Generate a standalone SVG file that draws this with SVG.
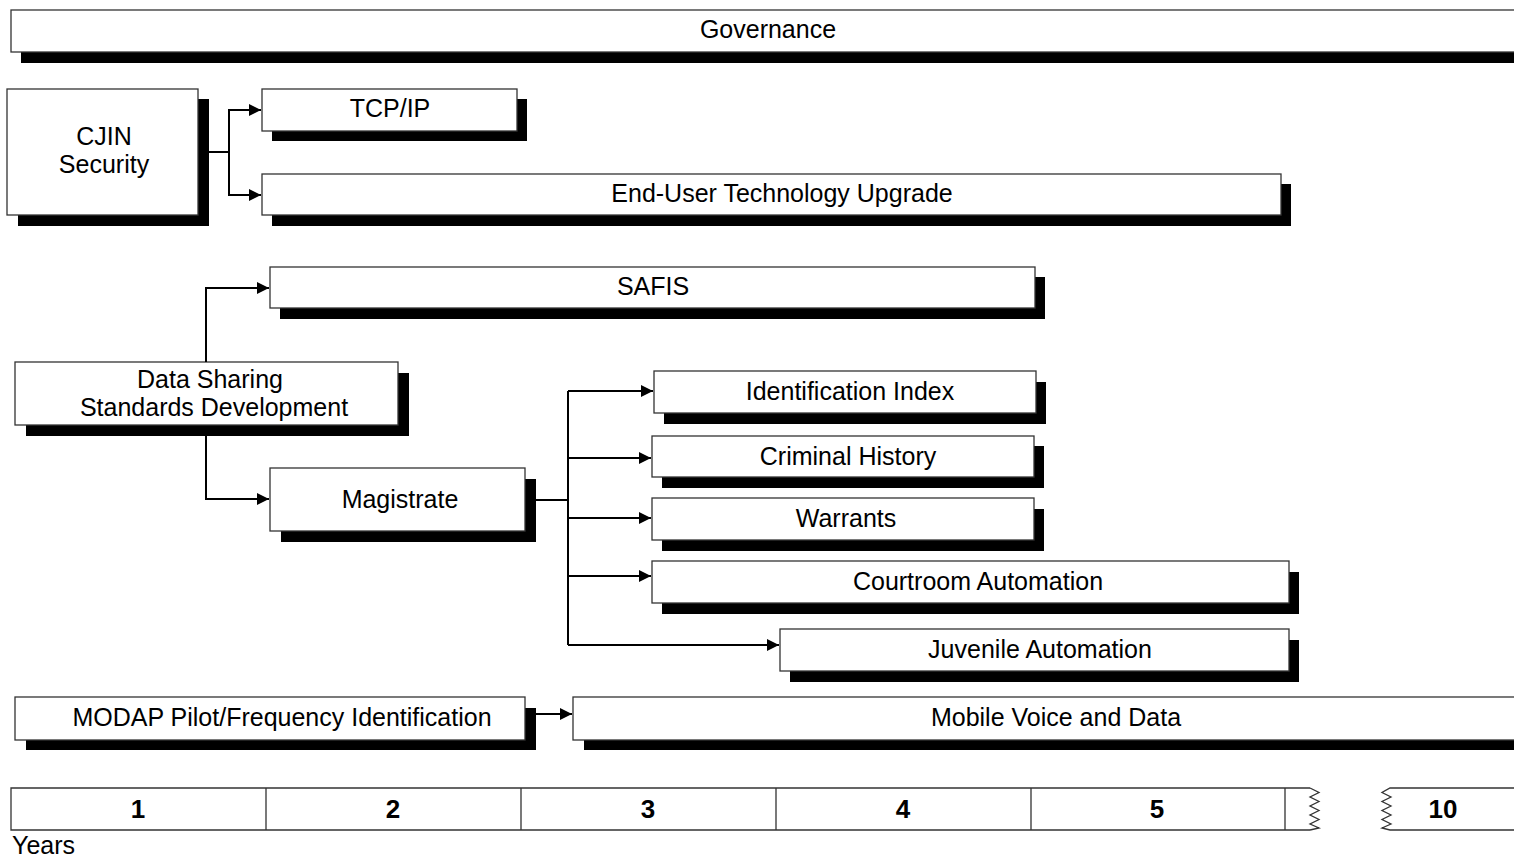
<svg xmlns="http://www.w3.org/2000/svg" width="1514" height="857" viewBox="0 0 1514 857">
<style>
.box{fill:#fff;stroke:#333;stroke-width:1.3}
.sh{fill:#000}
.t{font-family:"Liberation Sans",Arial,sans-serif;font-size:25px;fill:#000;text-anchor:middle}
.n{font-family:"Liberation Sans",Arial,sans-serif;font-size:26px;font-weight:bold;fill:#000;text-anchor:middle}
.c{fill:none;stroke:#000;stroke-width:2}
.tl{fill:none;stroke:#333;stroke-width:1.3}
</style>
<defs>
<marker id="ah" viewBox="0 0 10 10" refX="10" refY="5" markerWidth="12" markerHeight="12" markerUnits="userSpaceOnUse" orient="auto">
<path d="M0,0 L10,5 L0,10 z" fill="#000"/>
</marker>
</defs>
<rect width="1514" height="857" fill="#fff"/>

<g id="governance">
<rect class="sh" x="21" y="20" width="1500" height="43"/>
<rect class="box" x="11" y="10" width="1510" height="42"/>
<text class="t" x="768" y="38">Governance</text>
</g>

<g id="cjin">
<rect class="sh" x="18" y="99" width="191" height="127"/>
<rect class="box" x="7" y="89" width="191" height="126"/>
<text class="t" x="104" y="145">CJIN</text>
<text class="t" x="104" y="173">Security</text>
</g>

<g id="tcpip">
<rect class="sh" x="272" y="99" width="255" height="42"/>
<rect class="box" x="262" y="89" width="255" height="42"/>
<text class="t" x="390" y="117">TCP/IP</text>
</g>

<g id="enduser">
<rect class="sh" x="272" y="184" width="1019" height="42"/>
<rect class="box" x="262" y="174" width="1019" height="41"/>
<text class="t" x="782" y="202">End-User Technology Upgrade</text>
</g>

<g id="safis">
<rect class="sh" x="280" y="277" width="765" height="42"/>
<rect class="box" x="270" y="267" width="765" height="41"/>
<text class="t" x="653" y="295">SAFIS</text>
</g>

<g id="datasharing">
<rect class="sh" x="26" y="373" width="383" height="63"/>
<rect class="box" x="15" y="362" width="383" height="63"/>
<text class="t" x="210" y="388">Data Sharing</text>
<text class="t" x="214" y="416">Standards Development</text>
</g>

<g id="magistrate">
<rect class="sh" x="281" y="479" width="255" height="63"/>
<rect class="box" x="270" y="468" width="255" height="63"/>
<text class="t" x="400" y="508">Magistrate</text>
</g>

<g id="identification">
<rect class="sh" x="664" y="382" width="382" height="42"/>
<rect class="box" x="654" y="371" width="382" height="42"/>
<text class="t" x="850" y="400">Identification Index</text>
</g>

<g id="criminal">
<rect class="sh" x="662" y="446" width="382" height="42"/>
<rect class="box" x="652" y="436" width="382" height="41"/>
<text class="t" x="848" y="465">Criminal History</text>
</g>

<g id="warrants">
<rect class="sh" x="662" y="509" width="382" height="42"/>
<rect class="box" x="652" y="498" width="382" height="42"/>
<text class="t" x="846" y="527">Warrants</text>
</g>

<g id="courtroom">
<rect class="sh" x="662" y="572" width="637" height="42"/>
<rect class="box" x="652" y="561" width="637" height="42"/>
<text class="t" x="978" y="590">Courtroom Automation</text>
</g>

<g id="juvenile">
<rect class="sh" x="790" y="640" width="509" height="42"/>
<rect class="box" x="780" y="629" width="509" height="42"/>
<text class="t" x="1040" y="658">Juvenile Automation</text>
</g>

<g id="modap">
<rect class="sh" x="26" y="708" width="510" height="42"/>
<rect class="box" x="15" y="697" width="510" height="43"/>
<text class="t" x="282" y="726">MODAP Pilot/Frequency Identification</text>
</g>

<g id="mobile">
<rect class="sh" x="584" y="708" width="940" height="42"/>
<rect class="box" x="573" y="697" width="950" height="43"/>
<text class="t" x="1056" y="726">Mobile Voice and Data</text>
</g>

<g id="connectors">
<path class="c" d="M209,152 H229 V110 H261" marker-end="url(#ah)"/>
<path class="c" d="M229,152 V195 H261" marker-end="url(#ah)"/>
<path class="c" d="M206,362 V288 H269" marker-end="url(#ah)"/>
<path class="c" d="M206,436 V499 H269" marker-end="url(#ah)"/>
<path class="c" d="M536,500 H568"/>
<path class="c" d="M568,391 V645"/>
<path class="c" d="M568,391 H653" marker-end="url(#ah)"/>
<path class="c" d="M568,458 H651" marker-end="url(#ah)"/>
<path class="c" d="M568,518 H651" marker-end="url(#ah)"/>
<path class="c" d="M568,576 H651" marker-end="url(#ah)"/>
<path class="c" d="M568,645 H779" marker-end="url(#ah)"/>
<path class="c" d="M536,714 H572" marker-end="url(#ah)"/>
</g>

<g id="timeline">
<path class="tl" d="M1310,788 H11 V830 H1310"/>
<path class="tl" d="M266,788 V830 M521,788 V830 M776,788 V830 M1031,788 V830 M1285,788 V830"/>
<path class="tl" d="M1310,788 L1319,792.5 L1310,797 L1319,801.5 L1310,806 L1319,810.5 L1310,815 L1319,819.5 L1310,824 L1319,828 L1310,830" stroke-width="1"/>
<path class="tl" d="M1520,788 H1390 L1382,792.5 L1391,797 L1382,801.5 L1391,806 L1382,810.5 L1391,815 L1382,819.5 L1391,824 L1382,828 L1390,830 H1520"/>
<text class="n" x="138" y="818">1</text>
<text class="n" x="393" y="818">2</text>
<text class="n" x="648" y="818">3</text>
<text class="n" x="903" y="818">4</text>
<text class="n" x="1157" y="818">5</text>
<text class="n" x="1443" y="818">10</text>
<text class="t" x="12" y="854" style="text-anchor:start">Years</text>
</g>
</svg>
